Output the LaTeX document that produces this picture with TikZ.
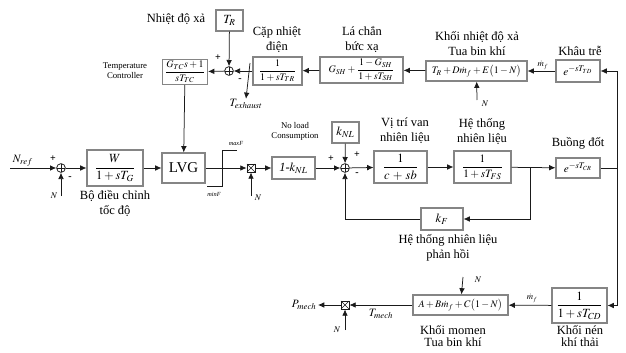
\documentclass[tikz,border=0pt]{standalone}
\usepackage{amsmath}
\usepackage{mathptmx}
\usepackage{fontspec}
\setmainfont{Liberation Serif}
\usetikzlibrary{arrows.meta, positioning, calc}
\definecolor{cline}{HTML}{1A1A1A}
\definecolor{cbox}{HTML}{858585}
\tikzset{
  every picture/.style={line width=0.6pt},
  box/.style={draw=cbox, fill=white, line width=0.9pt, inner sep=1pt, align=center},
  arrow/.style={-{Latex[length=5pt, width=4.5pt]}, draw=cline},
  wire/.style={draw=cline},
  sumpt/.style={circle, draw=cline, fill=white, minimum size=7pt, inner sep=0pt,
    path picture={\draw[cline, line width=0.4pt]
      (path picture bounding box.north) -- (path picture bounding box.south)
      (path picture bounding box.west) -- (path picture bounding box.east);}},
  mult/.style={rectangle, draw=cline, fill=white, minimum size=6.5pt, inner sep=0pt,
    path picture={\draw[cline, line width=0.4pt]
      (path picture bounding box.north west) -- (path picture bounding box.south east)
      (path picture bounding box.south west) -- (path picture bounding box.north east);}},
  title/.style={font=\normalsize, align=center, inner sep=0pt},
  note/.style={font=\scriptsize, align=center, inner sep=0pt},
  sign/.style={font=\footnotesize\bfseries, inner sep=0pt},
  var/.style={font=\scriptsize, inner sep=0pt},
}

\begin{document}
\begin{tikzpicture}[x=0.8pt, y=-0.8pt]
  \useasboundingbox (0,0) rectangle (626,352);
  % top row: exhaust temperature loop
  \node[box, minimum width=21.6pt, minimum height=16.8pt] (tr) at (229.5,20.5) {$T_R$};
  \node[title] at (176,19) {Nhiệt độ xả};
  \node[sumpt] (sumt) at (229,71) {};
  \node[box, minimum width=36pt, minimum height=16pt, font=\footnotesize] (tc) at (185,72) {$\dfrac{G_{TC}s+1}{sT_{TC}}$};
  \node[note] at (125,71) {Temperature\\Controller};
  \node[box, minimum width=39.2pt, minimum height=22.4pt, font=\footnotesize] (th) at (277.5,71) {$\dfrac{1}{1+sT_{TR}}$};
  \node[title] at (277,40) {Cặp nhiệt\\điện};
  \node[box, minimum width=66.4pt, minimum height=20.8pt, font=\footnotesize] (rs) at (361.5,70) {$G_{SH}+\dfrac{1-G_{SH}}{1+sT_{SH}}$};
  \node[title] at (362,40) {Lá chắn\\bức xạ};
  \node[box, minimum width=80.8pt, minimum height=16pt, font=\footnotesize] (et) at (476.5,71) {$T_R+D\dot m_f+E\big(1-N\big)$};
  \node[title] at (477,44) {Khối nhiệt độ xả\\Tua bin khí};
  \node[box, minimum width=35.2pt, minimum height=17.6pt, font=\small] (td) at (578,71) {$e^{-sT_{TD}}$};
  \node[title] at (580,51) {Khâu trễ};
  \node[var] (net) at (485,104) {$N$};
  \node[var] (tex) at (246,104) {\small$T_{exhaust}$};
  \coordinate (txa) at (250,63);
  \coordinate (netb) at (477,100);
  \draw[arrow] (td) -- node[var, above=1pt, pos=0.45] {$\dot m_f$} (et);
  \draw[arrow] (et) -- (rs);
  \draw[arrow] (rs) -- (th);
  \draw[arrow] (th) -- (sumt);
  \draw[arrow] (sumt) -- (tc);
  \draw[arrow] (tr) -- (sumt);
  \draw[arrow] (netb) -- (et);
  \draw[arrow] (txa) -- (tex.north);
  \node[sign] at (218,58) {+};
  \node[sign] at (240,80) {-};
  % middle row: speed governor and fuel system
  \coordinate (nref) at (10,168);
  \node[var, above right=1pt and 2pt] at (nref) {\small$N_{ref}$};
  \node[sumpt] (sum1) at (61,168) {};
  \node[box, minimum width=44.8pt, minimum height=28.8pt] (gov) at (115,168) {$\dfrac{W}{1+sT_G}$};
  \node[title] at (115,204) {Bộ điều chỉnh\\tốc độ};
  \node[box, minimum width=34.4pt, minimum height=24pt, font=\large] (lvg) at (183.5,168) {LVG};
  \node[mult] (m1) at (251,168) {};
  \node[box, minimum width=34.4pt, minimum height=17.6pt] (nl) at (293.5,168) {\textit{1-}$k_{NL}$};
  \node[note] at (295,131) {No load\\Consumption};
  \node[box, minimum width=21.6pt, minimum height=16.8pt] (knl) at (345.5,132.5) {$k_{NL}$};
  \node[sumpt] (sum2) at (345,168) {};
  \node[box, minimum width=42.4pt, minimum height=25.6pt] (vp) at (400.5,167) {$\dfrac{1}{c\,+\,sb}$};
  \node[title] at (405,131) {Vị trí van\\nhiên liệu};
  \node[box, minimum width=45.6pt, minimum height=25.6pt, font=\small] (fs) at (482.5,167) {$\dfrac{1}{1+sT_{FS}}$};
  \node[title] at (482,132) {Hệ thống\\nhiên liệu};
  \node[box, minimum width=33.6pt, minimum height=17.6pt] (kf) at (442,219) {$k_F$};
  \node[title] at (448,248) {Hệ thống nhiên liệu\\phản hồi};
  \node[box, minimum width=35.2pt, minimum height=16pt, font=\small] (cr) at (578,168) {$e^{-sT_{CR}}$};
  \node[title] at (578,143) {Buồng đốt};
  \node[var] (n1) at (54,196) {$N$};
  \node[var] (n2) at (258,198) {$N$};
  \coordinate (n1b) at (61,196);
  \coordinate (n2b) at (251,196);
  \coordinate (fsj) at (530,168);
  \coordinate (rj) at (617,168);
  \draw[arrow] (nref) -- (sum1);
  \draw[arrow] (n1b) -- (sum1);
  \draw[arrow] (sum1) -- (gov);
  \draw[arrow] (gov) -- (lvg);
  \draw[arrow] (tc) -- (lvg);
  \draw[arrow] (lvg) -- (m1);
  \draw[arrow] (n2b) -- (m1);
  \draw[arrow] (m1) -- (nl);
  \draw[arrow] (nl) -- (sum2);
  \draw[arrow] (knl) -- (sum2);
  \draw[arrow] (sum2) -- (vp);
  \draw[arrow] (vp) -- (fs);
  \draw[arrow] (fs) -- (cr);
  \draw[arrow] (fsj) |- (kf);
  \draw[arrow] (kf) -| (sum2);
  \draw[wire] (cr) -- (rj);
  \draw[arrow] (rj) |- (td);
  % limiter
  \draw[wire] (207,186) -- (222,186) -- (222,150) -- (237,150);
  \node[var, font=\tiny] at (236,143) {\textit{maxF}};
  \node[var, font=\tiny] at (214,194) {\textit{minF}};
  \node[sign] at (53,159) {+};
  \node[sign] at (70,178) {-};
  \node[sign] at (331,159) {+};
  \node[sign] at (357,155) {+};
  \node[sign] at (357,174) {-};
  % bottom row: mechanical output
  \node[box, minimum width=44pt, minimum height=28pt] (cd) at (579.5,305.5) {$\dfrac{1}{1+sT_{CD}}$};
  \node[title] at (580,336) {Khối nén\\[-2pt]khí thải};
  \node[box, minimum width=76pt, minimum height=16pt, font=\footnotesize] (tq) at (460.5,305) {$A+B\dot m_f+C\big(1-N\big)$};
  \node[title] at (453,336) {Khối momen\\[-2pt]Tua bin khí};
  \node[mult] (m2) at (345,305) {};
  \node[var] (n3) at (478,280) {$N$};
  \node[var] (n4) at (337,330) {$N$};
  \coordinate (n3b) at (463,277);
  \coordinate (n4b) at (345,330);
  \coordinate (pm) at (318,305);
  \node[var, left=1pt] at (pm) {\small$P_{mech}$};
  \draw[arrow] (rj) |- (cd);
  \draw[arrow] (cd) -- node[var, above=2pt, pos=0.45] {$\dot m_f$} (tq);
  \draw[arrow] (n3b) -- (tq);
  \draw[arrow] (tq) -- node[var, below=3pt] {\small$T_{mech}$} (m2);
  \draw[arrow] (n4b) -- (m2);
  \draw[arrow] (m2) -- (pm);
\end{tikzpicture}
\end{document}
